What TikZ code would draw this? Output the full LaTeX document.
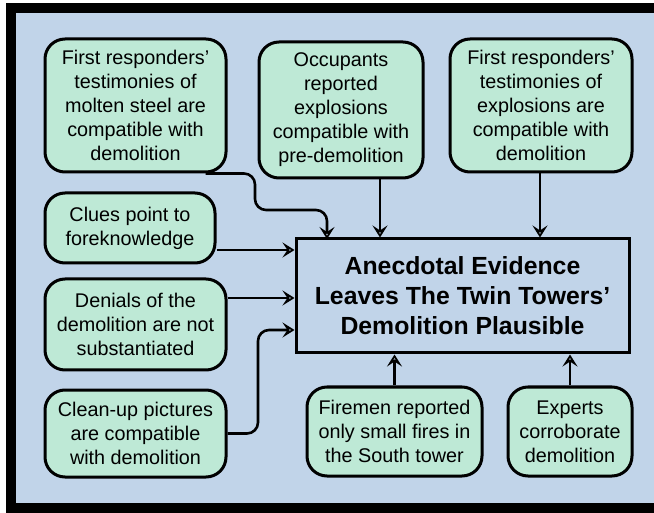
\documentclass[tikz,border=0pt]{standalone}
\usepackage{fontspec}
\setmainfont{Liberation Sans}
\usetikzlibrary{arrows.meta}
\definecolor{bgblue}{RGB}{193,212,233}
\definecolor{boxgreen}{RGB}{190,233,214}
\tikzset{
  claim/.style={draw=black, line width=3pt, fill=boxgreen, rounded corners=20pt,
    align=center, inner sep=0pt, font=\fontsize{19.8}{24}\selectfont},
  mainbox/.style={draw=black, line width=3pt, fill=bgblue, align=center, inner sep=0pt,
    font=\fontsize{24.8}{30}\selectfont\bfseries},
  conn/.style={line width=2.6pt, rounded corners=11pt,
    -{Stealth[open, length=12pt, width=15pt, inset=5pt, line width=2pt]}},
}
\begin{document}
\begin{tikzpicture}[x=1pt, y=-1pt]
\useasboundingbox (0,0) rectangle (654,513);
\fill[white] (0,0) rectangle (654,513);
\fill[black] (6,3) rectangle (670,530);
\fill[bgblue] (16,13) rectangle (670,503);

\node[claim, minimum width=181pt, minimum height=133pt] (b1) at (135.5,105.5)
  {First responders’\\testimonies of\\molten steel are\\compatible with\\demolition};
\node[claim, minimum width=164pt, minimum height=136pt] (b2) at (341,110)
  {Occupants\\reported\\explosions\\compatible with\\pre-demolition};
\node[claim, minimum width=182pt, minimum height=133pt] (b3) at (541,105.5)
  {First responders’\\testimonies of\\explosions are\\compatible with\\demolition};
\node[claim, minimum width=170pt, minimum height=70pt] (clues) at (130,228)
  {Clues point to\\foreknowledge};
\node[claim, minimum width=181pt, minimum height=91pt] (denials) at (135.5,324.5)
  {Denials of the\\demolition are not\\substantiated};
\node[claim, minimum width=181pt, minimum height=87pt] (cleanup) at (135.5,433.5)
  {Clean-up pictures\\are compatible\\with demolition};
\node[mainbox, minimum width=333pt, minimum height=114pt] (main) at (462.5,296)
  {Anecdotal Evidence\\Leaves The Twin Towers’\\Demolition Plausible};
\node[claim, minimum width=175pt, minimum height=89pt] (firemen) at (394.5,431.5)
  {Firemen reported\\only small fires in\\the South tower};
\node[claim, minimum width=124pt, minimum height=89pt] (experts) at (570,431.5)
  {Experts\\corroborate\\demolition};

\coordinate (k1) at (255,210);
\coordinate (t1) at (327,239);
\draw[conn] ([xshift=-22pt]b1.south east) -| (k1) -| (t1);
\draw[conn] (b2.south -| 380,0) -- (main.north -| 380,0);
\draw[conn] (b3.south -| 540,0) -- (main.north -| 540,0);
\draw[conn] ([yshift=-22pt]clues.east) coordinate (s1) -- (s1 -| main.west);
\draw[conn] ([yshift=26.5pt]denials.east) coordinate (s2) -- (s2 -| main.west);
\coordinate (k2) at (258,330);
\draw[conn] (cleanup.east) -| (k2) -- (k2 -| main.west);
\draw[conn] (firemen.north) -- (firemen.north |- main.south);
\draw[conn] (experts.north) -- (experts.north |- main.south);
\end{tikzpicture}
\end{document}
